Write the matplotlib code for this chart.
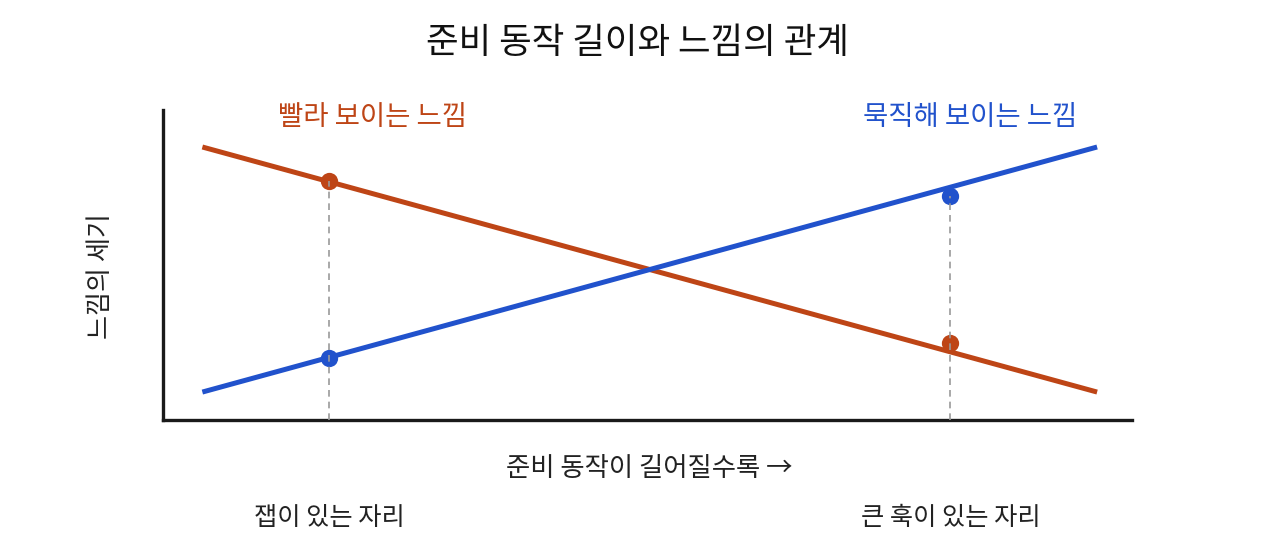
import matplotlib
matplotlib.use("Agg")
import matplotlib.pyplot as plt
import matplotlib.transforms as mtransforms

plt.rcParams['font.family'] = ['Noto Sans CJK KR', 'DejaVu Sans']

# 데이터
line_x = [0, 10]
fast_y = [10, 0]      # 빨라 보이는 느낌
heavy_y = [0, 10]     # 묵직해 보이는 느낌

mark_x = [1.42, 8.36]
fast_marks = [8.6, 2.0]
heavy_marks = [1.4, 8.0]

title = "준비 동작 길이와 느낌의 관계"
xlabel = "준비 동작이 길어질수록 →"
ylabel = "느낌의 세기"
fast_label = "빨라 보이는 느낌"
heavy_label = "묵직해 보이는 느낌"
place_labels = ["잽이 있는 자리", "큰 훅이 있는 자리"]

red = "#BE4516"
blue = "#2152CC"

fig = plt.figure(figsize=(12.8, 5.49), dpi=100)
ax = fig.add_axes([163/1280, 1-420/549, (1132-163)/1280, (420-110)/549])

ax.plot(line_x, fast_y, color=red, lw=3.6, solid_capstyle='butt', zorder=2)
ax.plot(line_x, heavy_y, color=blue, lw=3.6, solid_capstyle='butt', zorder=2)

ax.scatter(mark_x, fast_marks, s=155, color=red, zorder=3, linewidths=0)
ax.scatter(mark_x, heavy_marks, s=155, color=blue, zorder=3, linewidths=0)

# 점선 (각 자리의 위쪽 점까지)
tops = [max(a, b) for a, b in zip(fast_marks, heavy_marks)]
for x, top in zip(mark_x, tops):
    ax.plot([x, x], [-1.14, top], color="#9a9a9a", lw=1.2, ls=(0, (4, 3)), zorder=4)

ax.set_xlim(-0.44, 10.39)
ax.set_ylim(-1.14, 11.51)

ax.text(1.9, 11.19, fast_label, color=red, fontsize=19.8, ha='center', va='center')
ax.text(8.58, 11.19, heavy_label, color=blue, fontsize=19.8, ha='center', va='center')

trans = mtransforms.blended_transform_factory(ax.transData, fig.transFigure)
for x, lab in zip(mark_x, place_labels):
    ax.text(x, 1-518/549, lab, transform=trans, fontsize=18.2, ha='center', va='center', color="#222222")

fig.text(649/1280, 1-468/549, xlabel, fontsize=19, ha='center', va='center', color="#222222")
fig.text(100/1280, 1-276/549, ylabel, fontsize=18.8, ha='center', va='center', rotation=90, color="#222222")
fig.text(638/1280, 1-43/549, title, fontsize=25.5, ha='center', va='center', color="#111111")

for s in ['top', 'right']:
    ax.spines[s].set_visible(False)
for s in ['left', 'bottom']:
    ax.spines[s].set_linewidth(2.4)
    ax.spines[s].set_color("#1a1a1a")
ax.set_xticks([])
ax.set_yticks([])

fig.savefig("out.png", dpi=100, facecolor="white")
